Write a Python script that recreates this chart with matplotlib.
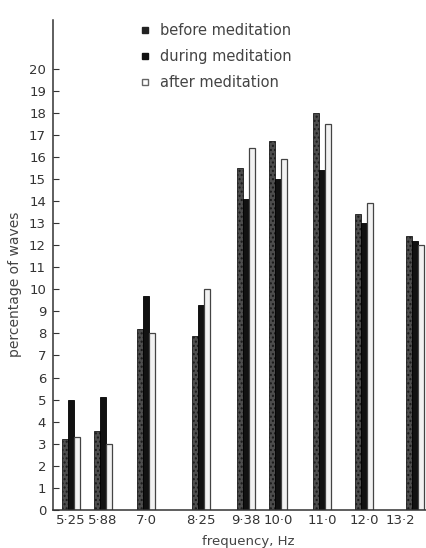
import matplotlib.pyplot as plt
import numpy as np
from matplotlib.lines import Line2D

# frequency bands (Hz) and the share of waves in each band
freq_labels = ["5·25", "5·88", "7·0", "8·25", "9·38", "10·0", "11·0", "12·0", "13·2"]
before = [3.2, 3.6, 8.2, 7.9, 15.5, 16.7, 18.0, 13.4, 12.4]
during = [5.0, 5.1, 9.7, 9.3, 14.1, 15.0, 15.4, 13.0, 12.2]
after = [3.3, 3.0, 8.0, 10.0, 16.4, 15.9, 17.5, 13.9, 12.0]
series_names = ["before meditation", "during meditation", "after meditation"]

# group centres along the x axis (bands are not evenly spaced)
group_x = np.array([18, 50, 93, 148, 193, 225, 269, 311, 362], dtype=float)
bar_w = 5.7

plt.rcParams['font.family'] = ['DejaVu Sans']

fig = plt.figure(figsize=(4.27, 5.48), dpi=100)
ax = fig.add_axes([53 / 427, 38 / 548, 374 / 427, 490 / 548])

styles = [
    dict(color="#4d4d4d", edgecolor="#1a1a1a", hatch="....", linewidth=0.6),
    dict(color="#111111", edgecolor="#000000", linewidth=0.6),
    dict(color="#f2f2f2", edgecolor="#444444", linewidth=0.9),
]
for i, vals in enumerate([before, during, after]):
    ax.bar(group_x + (i - 1) * bar_w, vals, width=bar_w, **styles[i], zorder=2)

ax.set_xlim(0, 374)
ax.set_ylim(0, 22.2)
ax.set_yticks(range(0, 21))
ax.set_xticks(group_x)
ax.set_xticklabels(freq_labels, fontsize=9.5, color="#333333")
# last label sits against the right edge of the figure
ax.get_xticklabels()[-1].set_horizontalalignment("right")
ax.tick_params(axis="y", direction="in", length=4, width=0.8, labelsize=9.5,
               pad=5, colors="#333333")
ax.tick_params(axis="x", length=0, pad=3)

for s in ["top", "right"]:
    ax.spines[s].set_visible(False)
for s in ["left", "bottom"]:
    ax.spines[s].set_linewidth(1.1)
    ax.spines[s].set_color("#333333")

fig.text(15 / 427, 1 - 284 / 548, "percentage of waves", rotation=90,
         ha="center", va="center", fontsize=10, color="#444444")
fig.text(248 / 427, 1 - 541 / 548, "frequency, Hz", ha="center", va="center",
         fontsize=9.5, color="#444444")

handles = [
    Line2D([], [], marker="s", ls="none", ms=4, mfc="#222222", mec="#222222"),
    Line2D([], [], marker="s", ls="none", ms=4, mfc="#111111", mec="#111111"),
    Line2D([], [], marker="s", ls="none", ms=4, mfc="white", mec="#666666"),
]
leg = fig.legend(handles, series_names, loc="upper left",
                 bbox_to_anchor=(134 / 427, 1 - 17 / 548), frameon=False,
                 fontsize=10.5, handlelength=0.7, handletextpad=0.7,
                 labelspacing=0.75, borderaxespad=0)
for t in leg.get_texts():
    t.set_color("#444444")

fig.savefig("out.png", dpi=100)
